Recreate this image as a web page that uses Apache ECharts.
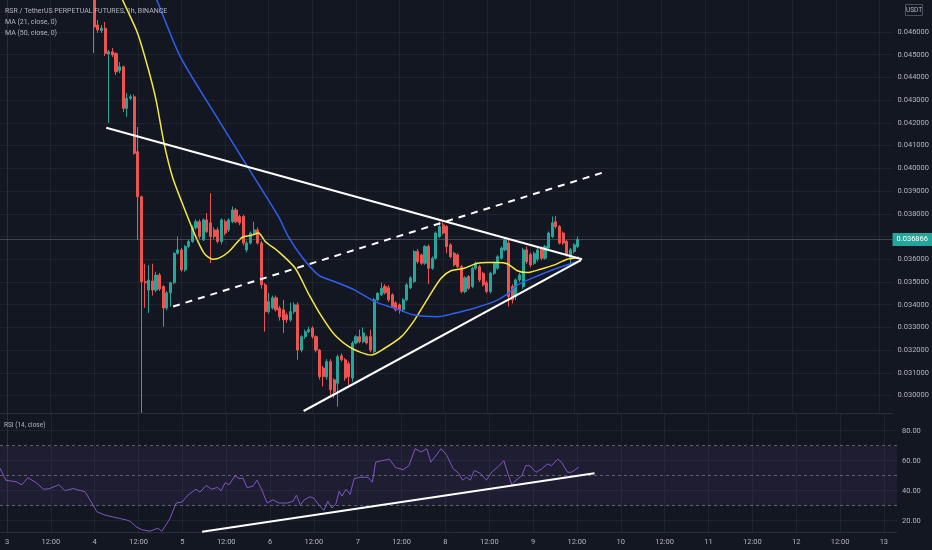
<!DOCTYPE html>
<html>
<head>
<meta charset="utf-8">
<script src="https://cdn.jsdelivr.net/npm/echarts@6/dist/echarts.min.js"></script>
<style>
    html, body { margin: 0; padding: 0; background: #131722; }
    #chart { width: 932px; height: 550px; }
</style>
</head>
<body>
<div id="chart"></div>
<script>
(function () {
    'use strict';

    // hours counted from day 3 00:00
    var firstHour = 24;

    // hourly candles [open, close, low, high], first one at firstHour
    var candles = [
        [0.04790, 0.04622, 0.04508, 0.04830], [0.04631, 0.04609, 0.04596, 0.04653],
        [0.04606, 0.04617, 0.04596, 0.04631], [0.04617, 0.04506, 0.04495, 0.04644],
        [0.04503, 0.04513, 0.04200, 0.04521], [0.04513, 0.04499, 0.04490, 0.04530],
        [0.04506, 0.04425, 0.04411, 0.04510], [0.04430, 0.04447, 0.04419, 0.04468],
        [0.04447, 0.04264, 0.04248, 0.04452], [0.04264, 0.04308, 0.04226, 0.04332],
        [0.04308, 0.04315, 0.04301, 0.04325], [0.04315, 0.04066, 0.04060, 0.04325],
        [0.04073, 0.03875, 0.03685, 0.04182], [0.03875, 0.03501, 0.02924, 0.03880],
        [0.03501, 0.03496, 0.03386, 0.03580], [0.03464, 0.03508, 0.03363, 0.03574],
        [0.03504, 0.03464, 0.03440, 0.03580], [0.03464, 0.03530, 0.03455, 0.03545],
        [0.03530, 0.03469, 0.03460, 0.03540], [0.03480, 0.03385, 0.03303, 0.03485],
        [0.03385, 0.03452, 0.03375, 0.03460], [0.03452, 0.03496, 0.03391, 0.03500],
        [0.03496, 0.03626, 0.03490, 0.03630], [0.03626, 0.03641, 0.03620, 0.03700],
        [0.03641, 0.03553, 0.03545, 0.03650], [0.03553, 0.03656, 0.03545, 0.03662],
        [0.03656, 0.03678, 0.03650, 0.03685], [0.03678, 0.03738, 0.03672, 0.03750],
        [0.03738, 0.03765, 0.03730, 0.03775], [0.03765, 0.03700, 0.03690, 0.03775],
        [0.03685, 0.03773, 0.03680, 0.03780], [0.03773, 0.03721, 0.03715, 0.03803],
        [0.03760, 0.03700, 0.03583, 0.03891], [0.03729, 0.03700, 0.03690, 0.03740],
        [0.03729, 0.03678, 0.03670, 0.03740], [0.03678, 0.03773, 0.03665, 0.03780],
        [0.03765, 0.03715, 0.03705, 0.03775], [0.03729, 0.03773, 0.03720, 0.03780],
        [0.03765, 0.03817, 0.03758, 0.03832], [0.03817, 0.03765, 0.03758, 0.03825],
        [0.03788, 0.03760, 0.03750, 0.03795], [0.03788, 0.03671, 0.03660, 0.03795],
        [0.03641, 0.03671, 0.03630, 0.03680], [0.03671, 0.03715, 0.03665, 0.03722],
        [0.03715, 0.03729, 0.03708, 0.03765], [0.03729, 0.03671, 0.03665, 0.03740],
        [0.03671, 0.03487, 0.03470, 0.03680], [0.03487, 0.03369, 0.03281, 0.03495],
        [0.03369, 0.03413, 0.03360, 0.03452], [0.03385, 0.03430, 0.03378, 0.03440],
        [0.03430, 0.03377, 0.03370, 0.03440], [0.03385, 0.03346, 0.03330, 0.03395],
        [0.03377, 0.03333, 0.03275, 0.03421], [0.03355, 0.03333, 0.03320, 0.03365],
        [0.03333, 0.03369, 0.03325, 0.03408], [0.03369, 0.03399, 0.03360, 0.03410],
        [0.03399, 0.03200, 0.03157, 0.03410], [0.03200, 0.03259, 0.03190, 0.03265],
        [0.03259, 0.03281, 0.03250, 0.03290], [0.03281, 0.03290, 0.03275, 0.03303],
        [0.03297, 0.03259, 0.03250, 0.03305], [0.03259, 0.03200, 0.03190, 0.03265],
        [0.03200, 0.03083, 0.03070, 0.03205], [0.03121, 0.03083, 0.03040, 0.03130],
        [0.03083, 0.03149, 0.03070, 0.03160], [0.03149, 0.03025, 0.02995, 0.03160],
        [0.03069, 0.03017, 0.02989, 0.03075], [0.03054, 0.03171, 0.02951, 0.03180],
        [0.03175, 0.03157, 0.03150, 0.03185], [0.03157, 0.03077, 0.03065, 0.03165],
        [0.03140, 0.03083, 0.03045, 0.03150], [0.03077, 0.03231, 0.03060, 0.03240],
        [0.03231, 0.03259, 0.03225, 0.03265], [0.03259, 0.03237, 0.03230, 0.03290],
        [0.03237, 0.03275, 0.03230, 0.03300], [0.03259, 0.03231, 0.03225, 0.03265],
        [0.03259, 0.03200, 0.03190, 0.03290], [0.03193, 0.03421, 0.03185, 0.03430],
        [0.03421, 0.03450, 0.03415, 0.03455], [0.03443, 0.03472, 0.03438, 0.03496],
        [0.03480, 0.03452, 0.03445, 0.03490], [0.03474, 0.03421, 0.03412, 0.03485],
        [0.03443, 0.03391, 0.03385, 0.03450], [0.03408, 0.03377, 0.03370, 0.03415],
        [0.03399, 0.03377, 0.03360, 0.03405], [0.03377, 0.03421, 0.03370, 0.03428],
        [0.03421, 0.03487, 0.03415, 0.03495], [0.03474, 0.03518, 0.03468, 0.03525],
        [0.03502, 0.03634, 0.03495, 0.03640], [0.03634, 0.03589, 0.03580, 0.03645],
        [0.03619, 0.03582, 0.03575, 0.03625], [0.03582, 0.03656, 0.03575, 0.03662],
        [0.03656, 0.03560, 0.03490, 0.03665], [0.03560, 0.03604, 0.03553, 0.03612],
        [0.03604, 0.03715, 0.03598, 0.03722], [0.03700, 0.03744, 0.03693, 0.03765],
        [0.03751, 0.03715, 0.03708, 0.03762], [0.03744, 0.03656, 0.03626, 0.03750],
        [0.03663, 0.03611, 0.03604, 0.03670], [0.03626, 0.03575, 0.03568, 0.03633],
        [0.03619, 0.03567, 0.03560, 0.03626], [0.03567, 0.03458, 0.03450, 0.03575],
        [0.03458, 0.03518, 0.03450, 0.03525], [0.03524, 0.03472, 0.03465, 0.03530],
        [0.03480, 0.03560, 0.03472, 0.03567], [0.03560, 0.03582, 0.03553, 0.03590],
        [0.03567, 0.03509, 0.03500, 0.03575], [0.03538, 0.03487, 0.03480, 0.03545],
        [0.03496, 0.03458, 0.03450, 0.03505], [0.03458, 0.03538, 0.03450, 0.03545],
        [0.03538, 0.03582, 0.03530, 0.03590], [0.03560, 0.03611, 0.03553, 0.03618],
        [0.03604, 0.03649, 0.03598, 0.03656], [0.03641, 0.03685, 0.03635, 0.03692],
        [0.03671, 0.03436, 0.03391, 0.03685], [0.03480, 0.03421, 0.03405, 0.03490],
        [0.03436, 0.03509, 0.03420, 0.03515], [0.03509, 0.03531, 0.03500, 0.03540],
        [0.03480, 0.03641, 0.03470, 0.03650], [0.03641, 0.03589, 0.03580, 0.03656],
        [0.03620, 0.03575, 0.03565, 0.03630], [0.03582, 0.03626, 0.03575, 0.03633],
        [0.03600, 0.03641, 0.03590, 0.03650], [0.03649, 0.03604, 0.03595, 0.03656],
        [0.03604, 0.03656, 0.03598, 0.03663], [0.03649, 0.03715, 0.03640, 0.03722],
        [0.03700, 0.03760, 0.03693, 0.03788], [0.03765, 0.03744, 0.03735, 0.03790],
        [0.03744, 0.03671, 0.03665, 0.03750], [0.03715, 0.03671, 0.03663, 0.03722],
        [0.03678, 0.03619, 0.03611, 0.03685], [0.03604, 0.03641, 0.03582, 0.03650],
        [0.03634, 0.03663, 0.03626, 0.03670], [0.03656, 0.03687, 0.03649, 0.03700]
    ];

    var lastPrice = 0.036866;

    // MA (21) and MA (50), [hour, price]
    var ma21 = [
        [28.7, 0.04851], [31.8, 0.04741], [35.9, 0.04596], [38.7, 0.04447], [41.0, 0.04301],
        [43.2, 0.04111], [45.5, 0.03963], [48.2, 0.03847], [51.5, 0.03715], [54.2, 0.03627],
        [56.5, 0.03600], [58.3, 0.03605], [61.0, 0.03633], [64.7, 0.03696], [67.4, 0.03706],
        [69.2, 0.03715], [71.1, 0.03677], [74.7, 0.03633], [79.3, 0.03560], [82.9, 0.03450],
        [86.6, 0.03347], [90.2, 0.03266], [94.8, 0.03208], [100.2, 0.03178], [103.9, 0.03208],
        [108.5, 0.03259], [112.1, 0.03332], [115.8, 0.03428], [119.4, 0.03516], [122.1, 0.03549],
        [125.8, 0.03560], [129.4, 0.03582], [132.2, 0.03585], [134.9, 0.03585], [137.7, 0.03579],
        [140.4, 0.03549], [143.1, 0.03541], [146.8, 0.03556], [150.4, 0.03574], [154.1, 0.03600],
        [157.3, 0.03608]
    ];
    var ma50 = [
        [38.0, 0.04851], [41.2, 0.04741], [47.6, 0.04494], [56.5, 0.04257], [65.6, 0.04022],
        [74.7, 0.03787], [77.4, 0.03699], [81.1, 0.03611], [85.7, 0.03530], [90.2, 0.03501],
        [95.7, 0.03464], [101.2, 0.03413], [106.6, 0.03384], [112.1, 0.03354], [118.5, 0.03347],
        [123.1, 0.03362], [128.5, 0.03384], [134.0, 0.03413], [137.7, 0.03447], [140.4, 0.03486],
        [145.9, 0.03526], [151.3, 0.03560], [156.8, 0.03589]
    ];

    // hand drawn trend lines, [hour, price]
    var upperLine = [[27.3, 0.041787], [158.2, 0.035995]];
    var lowerLine = [[81.6, 0.029318], [157.9, 0.035964]];
    var channelLine = [[45.7, 0.033917], [164.8, 0.039859]];

    // RSI (14), [hour, value]
    var rsi = [
        [-1.9, 55], [-0.3, 47], [2.5, 46], [4.1, 44], [5.7, 48.7], [7.9, 45.5], [10.0, 41],
        [11.5, 41.3], [14.2, 44], [15.9, 40], [18.1, 41.5], [19.7, 40.3], [21.3, 39.5],
        [23.0, 32.7], [24.6, 26], [26.8, 23.8], [29.0, 22.5], [30.7, 21.6], [32.7, 20.5],
        [33.8, 19.5], [35.3, 16], [36.9, 14], [39.1, 13], [41.3, 15], [42.4, 13], [44.6, 21.6],
        [46.3, 31.8], [47.9, 32.5], [49.5, 37], [51.7, 41], [52.8, 39], [54.5, 43.5], [56.0, 41],
        [57.6, 42.2], [58.6, 40], [59.7, 45.3], [60.8, 44], [62.4, 50], [63.5, 48], [64.6, 48.5],
        [65.7, 42], [67.3, 43], [68.4, 47], [69.5, 42], [71.2, 31.8], [72.8, 34], [74.4, 31.8],
        [76.6, 31.8], [78.3, 33], [79.2, 37], [80.3, 30.5], [81.4, 34], [82.9, 36], [84.0, 35],
        [85.7, 29.5], [86.8, 27], [87.8, 33], [88.9, 28.5], [90.0, 31], [90.9, 39.7], [91.7, 36.5],
        [92.8, 41], [93.9, 37.5], [95.0, 48], [96.6, 49], [98.8, 49], [100.0, 45.7], [100.9, 59],
        [102.5, 60], [104.7, 61], [106.3, 55.5], [108.4, 54], [110.0, 56.7], [111.7, 68],
        [113.3, 65.8], [114.9, 68], [116.0, 59], [117.1, 62.5], [118.8, 68], [120.4, 63.5],
        [122.1, 54.7], [123.7, 51.5], [124.7, 47], [125.8, 49], [126.8, 47], [127.9, 53.5],
        [129.6, 51.5], [131.2, 47], [132.7, 52.5], [134.4, 56], [136.0, 60], [137.1, 51.5],
        [138.2, 43.7], [139.3, 47], [140.9, 50], [142.0, 56.7], [143.1, 56.7], [144.8, 52.3],
        [146.3, 54.5], [147.9, 57.8], [149.0, 56.7], [150.7, 61], [151.8, 59], [153.4, 52.3],
        [154.5, 52.3], [156.5, 55.6]
    ];
    var rsiTrend = [[53.4, 12.7], [160.8, 51.6]];

    // axis ticks
    var timeTicks = [0, 12, 24, 36, 48, 60, 72, 84, 96, 108, 120, 132, 144, 156, 168, 180, 192, 204, 216, 228, 240];
    var priceTicks = [0.030, 0.031, 0.032, 0.033, 0.034, 0.035, 0.036, 0.037, 0.038, 0.039,
        0.040, 0.041, 0.042, 0.043, 0.044, 0.045, 0.046];
    var rsiTicks = [20, 40, 60, 80];
    var rsiLevels = [70, 50, 30];

    var FONT = '"Liberation Sans Narrow", "Roboto", sans-serif';
    var TXT = '#b2b5be';
    var GRIDC = 'rgba(42,46,57,0.55)';
    var EDGE = '#2a2e39';

    var candleData = candles.map(function (c, i) {
        return [firstHour + i, c[0], c[1], c[2], c[3]];
    });

    function timeLabel(v) {
        return v % 24 === 0 ? String(3 + v / 24) : '12:00';
    }

    function xAxisFor(idx, showLabels) {
        return {
            gridIndex: idx,
            type: 'value',
            min: -1.92,
            max: 243.6,
            axisLine: { show: true, onZero: false, lineStyle: { color: EDGE } },
            axisTick: { show: false, customValues: timeTicks },
            axisLabel: {
                show: showLabels, customValues: timeTicks, formatter: timeLabel,
                color: TXT, fontSize: 7.5, fontFamily: FONT, margin: 6
            },
            splitLine: { show: true, lineStyle: { color: GRIDC, width: 1 } }
        };
    }

    var chart = echarts.init(document.getElementById('chart'));

    chart.setOption({
        backgroundColor: '#131722',
        animation: false,
        grid: [
            { left: 0, right: 35, top: 0, height: 413 },
            { left: 0, right: 35, top: 413, height: 119 }
        ],
        xAxis: [xAxisFor(0, false), xAxisFor(1, true)],
        yAxis: [
            {
                gridIndex: 0, type: 'value', position: 'right',
                min: 0.02923, max: 0.04741,
                axisLine: { show: true, lineStyle: { color: EDGE } },
                axisTick: { show: false, customValues: priceTicks },
                axisLabel: {
                    customValues: priceTicks, color: TXT, fontSize: 7.5, fontFamily: FONT, margin: 5,
                    formatter: function (v) { return v.toFixed(6); }
                },
                splitLine: { show: true, lineStyle: { color: GRIDC, width: 1 } }
            },
            {
                gridIndex: 1, type: 'value', position: 'right',
                min: 12.5, max: 91.8,
                axisLine: { show: true, lineStyle: { color: EDGE } },
                axisTick: { show: false, customValues: rsiTicks },
                axisLabel: {
                    customValues: rsiTicks, color: TXT, fontSize: 7.5, fontFamily: FONT, margin: 5,
                    formatter: function (v) { return v.toFixed(2); }
                },
                splitLine: { show: true, lineStyle: { color: GRIDC, width: 1 } }
            }
        ],
        series: [
            {
                type: 'candlestick',
                xAxisIndex: 0, yAxisIndex: 0,
                data: candleData,
                encode: { x: 0, y: [1, 2, 3, 4] },
                barWidth: 2.6,
                itemStyle: {
                    color: '#26a69a', color0: '#ef5350',
                    borderColor: '#26a69a', borderColor0: '#ef5350', borderWidth: 1
                },
                z: 3
            },
            {
                name: 'MA (21, close, 0)', type: 'line',
                xAxisIndex: 0, yAxisIndex: 0,
                data: ma21, symbol: 'none', smooth: 0.25,
                lineStyle: { color: '#f5e842', width: 1.5 },
                // last price line and badge
                markLine: {
                    silent: true, symbol: 'none', precision: 6,
                    lineStyle: { color: 'rgba(120,128,140,0.45)', type: 'solid', width: 1 },
                    label: {
                        show: true, position: 'end', distance: 0,
                        formatter: lastPrice.toFixed(6),
                        backgroundColor: '#26a69a', color: '#ffffff',
                        fontSize: 7.5, fontFamily: FONT, padding: [3, 4, 2, 4]
                    },
                    data: [{ yAxis: lastPrice }]
                },
                z: 4
            },
            {
                name: 'MA (50, close, 0)', type: 'line',
                xAxisIndex: 0, yAxisIndex: 0,
                data: ma50, symbol: 'none', smooth: 0.25,
                lineStyle: { color: '#2f5ff0', width: 1.5 }, z: 4
            },
            {
                type: 'line', xAxisIndex: 0, yAxisIndex: 0,
                data: upperLine, symbol: 'none',
                lineStyle: { color: '#ffffff', width: 2 }, z: 5
            },
            {
                type: 'line', xAxisIndex: 0, yAxisIndex: 0,
                data: lowerLine, symbol: 'none',
                lineStyle: { color: '#ffffff', width: 2 }, z: 5
            },
            {
                type: 'line', xAxisIndex: 0, yAxisIndex: 0,
                data: channelLine, symbol: 'none',
                lineStyle: { color: '#ffffff', width: 2, type: [7, 6] }, z: 5
            },
            {
                name: 'RSI (14, close)', type: 'line',
                xAxisIndex: 1, yAxisIndex: 1,
                data: rsi, symbol: 'none',
                lineStyle: { color: '#7e57c2', width: 1 },
                markArea: {
                    silent: true,
                    itemStyle: { color: 'rgba(126,87,194,0.1)' },
                    data: [[{ yAxis: rsiLevels[2] }, { yAxis: rsiLevels[0] }]]
                },
                markLine: {
                    silent: true, symbol: 'none', label: { show: false },
                    lineStyle: { color: 'rgba(120,123,134,0.75)', type: [3, 3], width: 1 },
                    data: rsiLevels.map(function (v) { return { yAxis: v }; })
                },
                z: 4
            },
            {
                type: 'line', xAxisIndex: 1, yAxisIndex: 1,
                data: rsiTrend, symbol: 'none',
                lineStyle: { color: '#ffffff', width: 2 }, z: 5
            }
        ],
        graphic: [
            {
                type: 'text', x: 5, y: 11, z: 10,
                style: { text: 'RSR / TetherUS PERPETUAL FUTURES, 1h, BINANCE', fill: TXT,
                    font: '7px ' + FONT, verticalAlign: 'middle' }
            },
            {
                type: 'text', x: 5, y: 22, z: 10,
                style: { text: 'MA (21, close, 0)', fill: TXT, font: '7px ' + FONT, verticalAlign: 'middle' }
            },
            {
                type: 'text', x: 5, y: 33, z: 10,
                style: { text: 'MA (50, close, 0)', fill: TXT, font: '7px ' + FONT, verticalAlign: 'middle' }
            },
            {
                type: 'text', x: 4, y: 425, z: 10,
                style: { text: 'RSI (14, close)', fill: TXT, font: '6.5px ' + FONT, verticalAlign: 'middle' }
            },
            {
                type: 'rect', z: 10,
                shape: { x: 905.5, y: 4.5, width: 17, height: 11 },
                style: { fill: 'none', stroke: '#4a4f5c', lineWidth: 1 }
            },
            {
                type: 'text', x: 914, y: 10, z: 10,
                style: { text: 'USDT', fill: TXT, font: '6.5px ' + FONT, align: 'center', verticalAlign: 'middle' }
            }
        ]
    });
})();
</script>
</body>
</html>
